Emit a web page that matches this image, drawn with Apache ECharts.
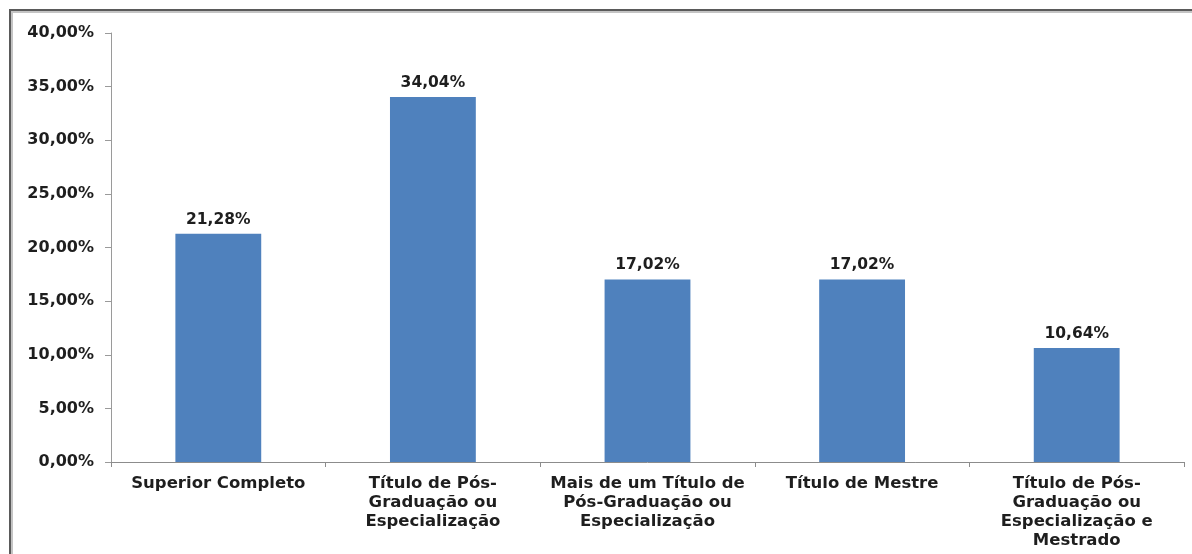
<!DOCTYPE html>
<html>
<head>
<meta charset="utf-8">
<script src="https://cdn.jsdelivr.net/npm/echarts@6/dist/echarts.min.js"></script>
<style>
  html, body { margin: 0; padding: 0; background: #fff; }
  body { width: 1192px; height: 554px; overflow: hidden; position: relative; }
  .frame {
    position: absolute; left: 9px; top: 9px; width: 1200px; height: 600px;
    border-left: 2px solid #5a5a5a; border-top: 2px solid #5a5a5a;
    box-shadow: inset 2px 2px 0 #c4c4c4;
  }
  #chart { position: absolute; left: 0; top: 0; width: 1192px; height: 554px; }
</style>
</head>
<body>
<div class="frame"></div>
<div id="chart"></div>
<script>
// Escolaridade: categorias e percentuais
const categorias = [
  'Superior Completo',
  'Título de Pós-\nGraduação ou\nEspecialização',
  'Mais de um Título de\nPós-Graduação ou\nEspecialização',
  'Título de Mestre',
  'Título de Pós-\nGraduação ou\nEspecialização e\nMestrado'
];
const percentuais = [21.28, 34.04, 17.02, 17.02, 10.64];
const escalaY = { min: 0, max: 40, intervalo: 5 };

const fmt = v => v.toFixed(2).replace('.', ',') + '%';
const fonte = '"DejaVu Sans", sans-serif';

const chart = echarts.init(document.getElementById('chart'), null, { renderer: 'canvas' });
chart.setOption({
  animation: false,
  backgroundColor: 'transparent',
  grid: { left: 111, right: 8, top: 33, bottom: 92, containLabel: false },
  xAxis: {
    type: 'category',
    data: categorias,
    axisLine: { lineStyle: { color: '#8c8c8c', width: 1 } },
    axisTick: { show: true, length: 5, lineStyle: { color: '#8c8c8c' } },
    axisLabel: {
      interval: 0,
      margin: 12,
      color: '#1e1e1e',
      fontFamily: fonte,
      fontWeight: 'bold',
      fontSize: 16.5,
      lineHeight: 19,
      align: 'center'
    }
  },
  yAxis: {
    type: 'value',
    min: escalaY.min,
    max: escalaY.max,
    interval: escalaY.intervalo,
    splitLine: { show: false },
    axisLine: { show: true, lineStyle: { color: '#9a9a9a', width: 1 } },
    axisTick: { show: true, length: 6, lineStyle: { color: '#9a9a9a' } },
    axisLabel: {
      margin: 17,
      color: '#1e1e1e',
      fontFamily: fonte,
      fontWeight: 'bold',
      fontSize: 16,
      formatter: fmt
    }
  },
  series: [{
    type: 'bar',
    data: percentuais,
    barWidth: '40%',
    itemStyle: { color: '#4f81bd' },
    label: {
      show: true,
      position: 'top',
      distance: 6,
      color: '#1e1e1e',
      fontFamily: fonte,
      fontWeight: 'bold',
      fontSize: 15.5,
      formatter: p => fmt(p.value)
    }
  }]
});
</script>
</body>
</html>
